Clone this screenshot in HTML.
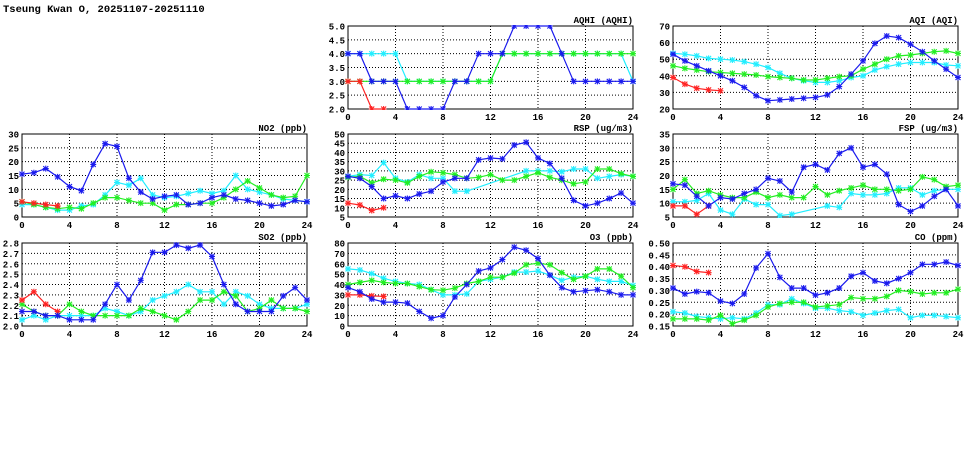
<!DOCTYPE html>
<html><head><meta charset="utf-8"><style>
body{margin:0;background:#fff;width:975px;height:447px;overflow:hidden}
svg text{font-family:"Liberation Mono",monospace;font-weight:bold;fill:#000}
</style></head><body>
<svg id="chart" width="975" height="447" xmlns="http://www.w3.org/2000/svg">
<text x="3" y="12" font-size="10.5">Tseung Kwan O, 20251107-20251110</text>
</svg>
<script>
const hours=[0,1,2,3,4,5,6,7,8,9,10,11,12,13,14,15,16,17,18,19,20,21,22,23,24];
const xTicks=[0,4,8,12,16,20,24];
// AQHI
const aqhiBlue=[4,4,3,3,3,2,2,2,2,3,3,4,4,4,5,5,5,5,4,3,3,3,3,3,3];
const aqhiCyan=[4,4,4,4,4,3,3,3,3,3,3,3,3,4,4,4,4,4,4,4,4,4,4,4,3];
const aqhiGreen=[3,3,3,3,3,3,3,3,3,3,3,3,3,4,4,4,4,4,4,4,4,4,4,4,4];
const aqhiRed=[3,3,2,2];
const aqhiTicks=[2.0,2.5,3.0,3.5,4.0,4.5,5.0];
// AQI
const aqiBlue=[53,49,46,43,40,37,33,28,25,25.5,26,26.5,27,28.5,33.5,41,49,59.5,64,63,59,54.5,49,44,39];
const aqiCyan=[53.5,53,52,50.5,50,49.5,48.5,47,45,41.5,38.5,37,36,36,37,39,40,43.5,45.5,47,48,48,48,46.5,46];
const aqiGreen=[46,44.5,43.5,42.5,42,41.5,41,40.5,39.5,39,38.5,37.5,37.5,38.5,39.5,40,44,47,50,52,52.5,53.5,54.5,55,53.5];
const aqiRed=[39,35,32.5,31.5,31];
const aqiTicks=[20,30,40,50,60,70];
// NO2
const no2Blue=[15.5,16,17.5,14.5,11,9.5,19,26.5,25.5,14,9,6.5,7.5,8,4.5,5,7,8,6.5,6,5,4,4.5,6,5.5];
const no2Cyan=[4.5,4.5,3.5,2.5,2.5,4,4.5,8,12.5,11.5,14,8,7,7.5,8.5,9.5,8.5,9.5,15,10,9,8,6.5,6,5.5];
const no2Green=[5.5,4.5,3.5,3,3.5,3,5,7,7,6,5,5,2.5,4.5,4.5,5,5,7,10,13,10.5,8,7,7.5,15];
const no2Red=[5.5,5,4.5,4];
const no2Ticks=[0,5,10,15,20,25,30];
// RSP
const rspBlue=[27,26,21.5,15,16.5,15,17.5,19,24,26,26,36,37,36.5,44,45.5,37,34,26,14,11,12.5,15,18,12.5];
const rspCyan=[27,28,27.5,34.5,26,24,28,26,26,19,19,null,null,null,null,30,30,30,29.5,31,31,26,27,28,27];
const rspGreen=[26.5,27,23.5,25.5,25,23.5,27,29.5,29,28,26,26.5,28,25,25,27,29,26.5,25,23,24,31,31,28.5,27];
const rspRed=[12.5,11.5,8.5,10];
const rspTicks=[5,10,15,20,25,30,35,40,45,50];
// FSP
const fspBlue=[17,16.5,12.5,9,12,11.5,13.5,15,19,18,14,23,24,22,28,30,23,24,20.5,9.5,7,9,12.5,15,9];
const fspCyan=[10.5,10.5,11,13.5,7.5,6,11.5,9.5,9.5,5.5,6,null,null,9,8.5,13.5,13,13,13.5,15.5,15.5,13,14.5,15,15];
const fspGreen=[15,18.5,13.5,14.5,13,12,12,14,12,13,12,12,16,13,14.5,15.5,16.5,15,15,14.5,15,19.5,18.5,16,16.5];
const fspRed=[9,9,6,9];
const fspTicks=[5,10,15,20,25,30,35];
// SO2
const so2Blue=[2.14,2.14,2.1,2.1,2.06,2.06,2.06,2.21,2.4,2.25,2.44,2.71,2.71,2.78,2.75,2.78,2.67,2.4,2.21,2.14,2.14,2.14,2.29,2.37,2.25];
const so2Cyan=[2.06,2.1,2.06,2.1,2.1,2.1,2.1,2.17,2.14,2.1,2.14,2.25,2.29,2.33,2.4,2.33,2.33,2.21,2.33,2.29,2.21,2.17,2.17,2.17,2.21];
const so2Green=[2.21,2.14,2.1,2.1,2.21,2.14,2.1,2.1,2.1,2.1,2.17,2.14,2.1,2.06,2.14,2.25,2.25,2.33,2.29,2.14,2.17,2.25,2.17,2.17,2.14];
const so2Red=[2.25,2.33,2.21,2.14];
const so2Ticks=[2.0,2.1,2.2,2.3,2.4,2.5,2.6,2.7,2.8];
// O3
const o3Blue=[37,33,26,23,23,22,14,7.5,10,28,40,53,56,64,76,73,65,49,37,33,34,35,33,30,30];
const o3Cyan=[55,54,50.5,46,43,41,40,35,30,30,31,43,45,47,52,52,53,49,44,47,48,45,43,43,39];
const o3Green=[40,42,44,42,41,41,38,35,34.5,36.5,41,43,47,47,51,59,60.5,59,51.5,45,48,55,55,48,37];
const o3Red=[30,30,29,28.5];
const o3Ticks=[0,10,20,30,40,50,60,70,80];
// CO
const coBlue=[.31,.285,.295,.29,.255,.245,.285,.395,.455,.355,.31,.31,.28,.29,.31,.36,.375,.34,.33,.35,.375,.41,.41,.42,.405];
const coCyan=[.21,.205,.19,.185,.18,.185,.18,.205,.24,.24,.265,.245,.225,.225,.215,.21,.195,.205,.215,.22,.185,.195,.195,.19,.185];
const coGreen=[.18,.18,.18,.175,.195,.16,.175,.195,.23,.245,.25,.25,.23,.235,.24,.27,.265,.265,.275,.3,.295,.285,.29,.29,.305];
const coRed=[.405,.4,.38,.375];
const coTicks=[0.15,0.20,0.25,0.30,0.35,0.40,0.45,0.50];

const NS="http://www.w3.org/2000/svg";
const svg=document.getElementById('chart');
function mk(tag,attrs,parent){const e=document.createElementNS(NS,tag);for(const k in attrs)e.setAttribute(k,attrs[k]);(parent||svg).appendChild(e);return e;}

const panels=[
 {name:'aqhi',title:'AQHI (AQHI)',x0:348,y0:26,ticks:aqhiTicks,dec:1,series:[aqhiCyan,aqhiGreen,aqhiRed,aqhiBlue]},
 {name:'aqi',title:'AQI (AQI)',x0:673,y0:26,ticks:aqiTicks,dec:0,series:[aqiCyan,aqiGreen,aqiRed,aqiBlue]},
 {name:'no2',title:'NO2 (ppb)',x0:22,y0:134,ticks:no2Ticks,dec:0,series:[no2Cyan,no2Green,no2Red,no2Blue]},
 {name:'rsp',title:'RSP (ug/m3)',x0:348,y0:134,ticks:rspTicks,dec:0,series:[rspCyan,rspGreen,rspRed,rspBlue]},
 {name:'fsp',title:'FSP (ug/m3)',x0:673,y0:134,ticks:fspTicks,dec:0,series:[fspCyan,fspGreen,fspRed,fspBlue]},
 {name:'so2',title:'SO2 (ppb)',x0:22,y0:243,ticks:so2Ticks,dec:1,series:[so2Cyan,so2Green,so2Red,so2Blue]},
 {name:'o3',title:'O3 (ppb)',x0:348,y0:243,ticks:o3Ticks,dec:0,series:[o3Cyan,o3Green,o3Red,o3Blue]},
 {name:'co',title:'CO (ppm)',x0:673,y0:243,ticks:coTicks,dec:2,series:[coCyan,coGreen,coRed,coBlue]}
];
const colors=['#22eeff','#22ee22','#ff2222','#1a1aee'];
const sNames=['cyan','green','red','blue'];
const W=285,H=83;
panels.forEach((p,pi)=>{
 const g=mk('g',{});
 
 
 const ymin=p.ticks[0],ymax=p.ticks[p.ticks.length-1];
 const sx=v=>p.x0+v/24*W;
 const sy=v=>p.y0+H-(v-ymin)/(ymax-ymin)*H;
 const cid='clip'+pi;
 const cp=mk('clipPath',{id:cid},g);mk('rect',{x:p.x0-4,y:p.y0-1,width:W+8,height:H+2},cp);
 p.ticks.forEach(t=>{
  const y=sy(t);
  if(t!==ymin&&t!==ymax){const l=mk('line',{x1:p.x0,x2:p.x0+W,y1:y,y2:y,stroke:'#000','stroke-width':1,'stroke-dasharray':'1,2'},g);
   }
  const tx=mk('text',{x:p.x0-3,y:y+3.5,'font-size':9,'text-anchor':'end'},g);
  
  tx.textContent=t.toFixed(p.dec);
 });
 xTicks.forEach(t=>{
  const x=sx(t);
  if(t!==0&&t!==24){const l=mk('line',{x1:x,x2:x,y1:p.y0,y2:p.y0+H,stroke:'#000','stroke-width':1,'stroke-dasharray':'1,2'},g);
   }
  const tx=mk('text',{x:x,y:p.y0+H+11,'font-size':9,'text-anchor':'middle'},g);
  
  tx.textContent=t;
 });
 const fr=mk('rect',{x:p.x0,y:p.y0,width:W,height:H,fill:'none',stroke:'#000','stroke-width':1},g);
 
 const tt=mk('text',{x:p.x0+W,y:p.y0-3,'font-size':9,'text-anchor':'end'},g);
 
 tt.textContent=p.title;
 p.series.forEach((vals,si)=>{
  const sg=mk('g',{'clip-path':'url(#'+cid+')'},g);
  
  
  const pts=[];vals.forEach((v,i)=>{if(v!==null)pts.push([sx(hours[i]),sy(v)]);});
  const pl=mk('polyline',{points:pts.map(q=>q[0].toFixed(1)+','+q[1].toFixed(1)).join(' '),fill:'none',stroke:colors[si],'stroke-width':1.2},sg);
  
  pts.forEach(q=>{
   const m=mk('path',{d:`M${q[0]-2.5},${q[1]-2.5}L${q[0]+2.5},${q[1]+2.5}M${q[0]-2.5},${q[1]+2.5}L${q[0]+2.5},${q[1]-2.5}M${q[0]-3},${q[1]}L${q[0]+3},${q[1]}M${q[0]},${q[1]-3}L${q[0]},${q[1]+3}`,stroke:colors[si],'stroke-width':1.1,fill:'none'},sg);
   
  });
 });
});
</script>
</body></html>
